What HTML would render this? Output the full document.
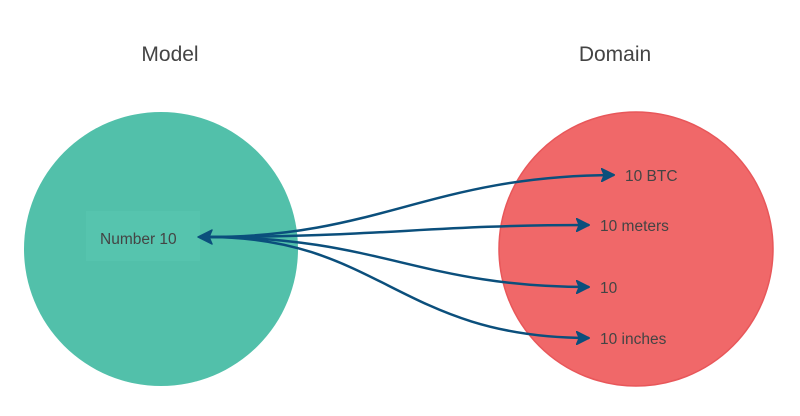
<!DOCTYPE html>
<html><head><style>
body{margin:0;width:800px;height:411px;background:#fff;overflow:hidden}
svg text{font-family:"Liberation Sans",sans-serif;fill:#444}
</style></head><body>
<svg width="800" height="411" viewBox="0 0 800 411">
<defs>
<marker id="a" markerWidth="14" markerHeight="14" refX="13" refY="7" orient="auto" markerUnits="userSpaceOnUse"><path d="M0,0 L14,7 L0,14 L3,7 Z" fill="#0b4f7c" stroke="#0b4f7c" stroke-width="1" stroke-linejoin="round"/></marker>
</defs>
<text x="170" y="61" font-size="21" text-anchor="middle">Model</text>
<text x="615" y="61" font-size="21" text-anchor="middle">Domain</text>
<circle cx="161" cy="249" r="137" fill="#52c0aa"/>
<circle cx="636" cy="249" r="137" fill="#f06869" stroke="#e8575a" stroke-width="1.5"/>
<rect x="86" y="211" width="114" height="50" fill="#56c4ae"/>
<text x="100" y="244" font-size="15.5">Number 10</text>
<g fill="none" stroke="#0b4f7c" stroke-width="2.5" marker-end="url(#a)">
<path d="M208,237 C380,237 430,176 614,175"/>
<path d="M208,237 C380,237 430,225 589,225"/>
<path d="M208,237 C380,237 420,287 589,287"/>
<path d="M208,237 C380,237 400,338 589,338"/>
</g>
<path d="M198,237 L212,230 L209,237 L212,244 Z" fill="#0b4f7c" stroke="#0b4f7c" stroke-width="1.5" stroke-linejoin="round"/>
<text x="625" y="181" font-size="15.5">10 BTC</text>
<text x="600" y="231" font-size="15.5">10 meters</text>
<text x="600" y="293" font-size="15.5">10</text>
<text x="600" y="344" font-size="15.5">10 inches</text>
</svg>
</body></html>
